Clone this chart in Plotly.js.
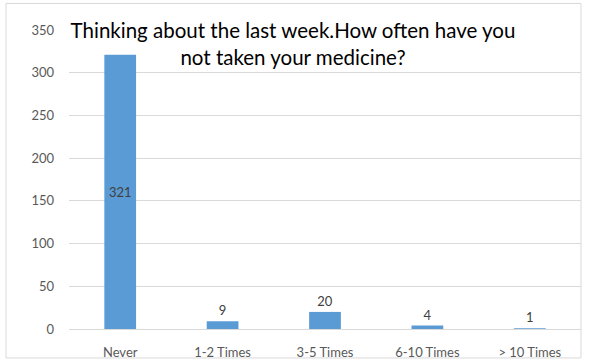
<!DOCTYPE html>
<html>
<head>
<meta charset="utf-8">
<script src="https://cdn.plot.ly/plotly-3.0.1.min.js"></script>
<style>html,body{margin:0;padding:0;background:#fff;}#chart{width:590px;height:364px;}</style>
</head>
<body>
<div id="chart"></div>
<script>
var categories = ["Never", "1-2 Times", "3-5 Times", "6-10 Times", "> 10 Times"];
var counts = [321, 9, 20, 4, 1];
var labelPositions = ["inside", "outside", "outside", "outside", "outside"];
var yTicks = [0, 50, 100, 150, 200, 250, 300, 350];

var trace = {
  type: "bar",
  x: categories,
  y: counts,
  text: counts.map(String),
  textposition: labelPositions,
  insidetextanchor: "middle",
  textfont: {family: "Lato, 'Open Sans', sans-serif", size: 13, color: "#404040"},
  insidetextfont: {family: "Lato, 'Open Sans', sans-serif", size: 13, color: "#404040"},
  outsidetextfont: {family: "Lato, 'Open Sans', sans-serif", size: 13, color: "#404040"},
  cliponaxis: false,
  marker: {color: "#5B9BD5"},
  hoverinfo: "none"
};

var plotW = 590 - 69 - 9;
var plotH = 329 - 29.6;

var layout = {
  width: 590, height: 364,
  margin: {l: 69, r: 9, t: 29.6, b: 35, pad: 0},
  paper_bgcolor: "#ffffff", plot_bgcolor: "#ffffff",
  showlegend: false,
  bargap: 0.69,
  font: {family: "Lato, 'Open Sans', sans-serif", color: "#595959", size: 13},
  title: {
    text: "Thinking about the last week.How often have you<br>not taken your medicine?",
    font: {family: "Lato, 'Open Sans', sans-serif", size: 20.5, color: "#000000"},
    x: 293 / 590, xanchor: "center", xref: "container",
    y: 1 - 38 / 364, yanchor: "top", yref: "container"
  },
  xaxis: {
    type: "category",
    showgrid: false, zeroline: false, showline: false,
    ticks: "", ticklabelstandoff: 14,
    tickfont: {size: 13, color: "#595959"}
  },
  yaxis: {
    range: [0, 350],
    tickvals: yTicks,
    showgrid: true, gridcolor: "#d9d9d9", gridwidth: 1,
    zeroline: true, zerolinecolor: "#d9d9d9", zerolinewidth: 1,
    showline: false, ticks: "", ticklabelstandoff: 14,
    tickfont: {size: 13, color: "#595959"}
  },
  shapes: [{
    type: "rect", xref: "paper", yref: "paper",
    x0: (6 - 69) / plotW, x1: (581 - 69) / plotW,
    y0: (329 - 358) / plotH, y1: (329 - 3) / plotH,
    line: {color: "#d9d9d9", width: 1}, fillcolor: "rgba(0,0,0,0)", layer: "below"
  }]
};

Plotly.newPlot("chart", [trace], layout, {displayModeBar: false, staticPlot: true});
</script>
</body>
</html>
